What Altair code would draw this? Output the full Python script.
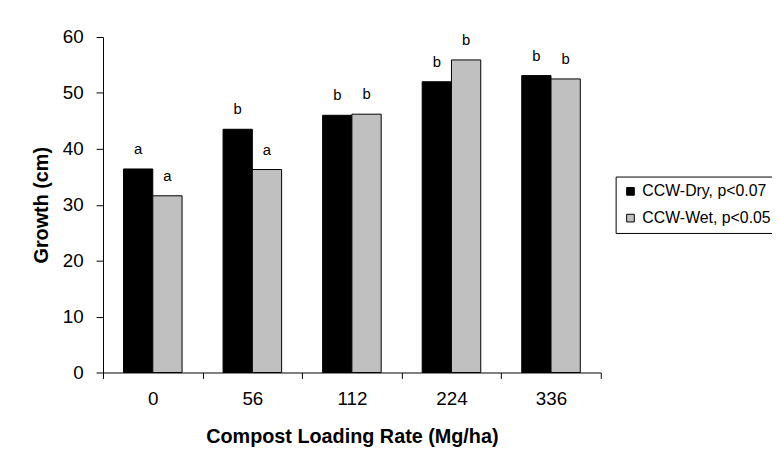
import altair as alt
import pandas as pd

rates = ["0", "56", "112", "224", "336"]
series = ["CCW-Dry, p<0.07", "CCW-Wet, p<0.05"]
dry = [36.4, 43.5, 46.0, 52.0, 53.1]
wet = [31.6, 36.3, 46.2, 55.9, 52.5]
dry_letters = ["a", "b", "b", "b", "b"]
wet_letters = ["a", "a", "b", "b", "b"]

rows = []
for i, r in enumerate(rates):
    rows.append({"rate": r, "series": series[0], "growth": dry[i], "letter": dry_letters[i]})
    rows.append({"rate": r, "series": series[1], "growth": wet[i], "letter": wet_letters[i]})
df = pd.DataFrame(rows)

FONT = "Liberation Sans"

x = alt.X("rate:N", sort=rates,
          scale=alt.Scale(paddingInner=0, paddingOuter=0),
          axis=alt.Axis(title="Compost Loading Rate (Mg/ha)", labelAngle=0,
                        tickBand="extent", tickSize=6, labelPadding=11,
                        titlePadding=19))
xo = alt.XOffset("series:N", sort=series,
                 scale=alt.Scale(paddingInner=0, paddingOuter=0.7))
y = alt.Y("growth:Q",
          scale=alt.Scale(domain=[0, 60], nice=False),
          axis=alt.Axis(title="Growth (cm)", values=[0, 10, 20, 30, 40, 50, 60],
                        tickSize=7, labelPadding=13, titlePadding=11, grid=False))

bars = alt.Chart(df).mark_bar(stroke="black", strokeWidth=1).encode(
    x=x, xOffset=xo, y=y,
    color=alt.Color("series:N", sort=series,
                    scale=alt.Scale(domain=series, range=["#000000", "#C0C0C0"]),
                    legend=alt.Legend(title=None, orient="none", legendX=518, legendY=141,
                                      symbolType="square", symbolSize=60,
                                      symbolStrokeColor="black", symbolStrokeWidth=1,
                                      labelFontSize=16, labelFont=FONT, labelColor="black",
                                      strokeColor="black", padding=7, rowPadding=11,
                                      labelOffset=4, labelLimit=300))
)

letters = alt.Chart(df).mark_text(dy=-15, baseline="alphabetic", fontSize=15,
                                  font=FONT, color="black").encode(
    x=x, xOffset=xo, y=y, text="letter:N"
)

chart = alt.layer(bars, letters).properties(
    width=503, height=339,
    autosize=alt.AutoSizeParams(type="none"),
    padding={"left": 96, "top": 27, "right": 173, "bottom": 76},
    background="white",
).configure_view(stroke=None).configure_axis(
    labelFont=FONT, titleFont=FONT, labelFontSize=19, titleFontSize=20,
    labelColor="black", titleColor="black", domainColor="black", tickColor="black",
    titleFontWeight="bold", domainWidth=1, tickWidth=1,
)

chart.save("out.html", embed_options={"renderer": "svg", "actions": False})
